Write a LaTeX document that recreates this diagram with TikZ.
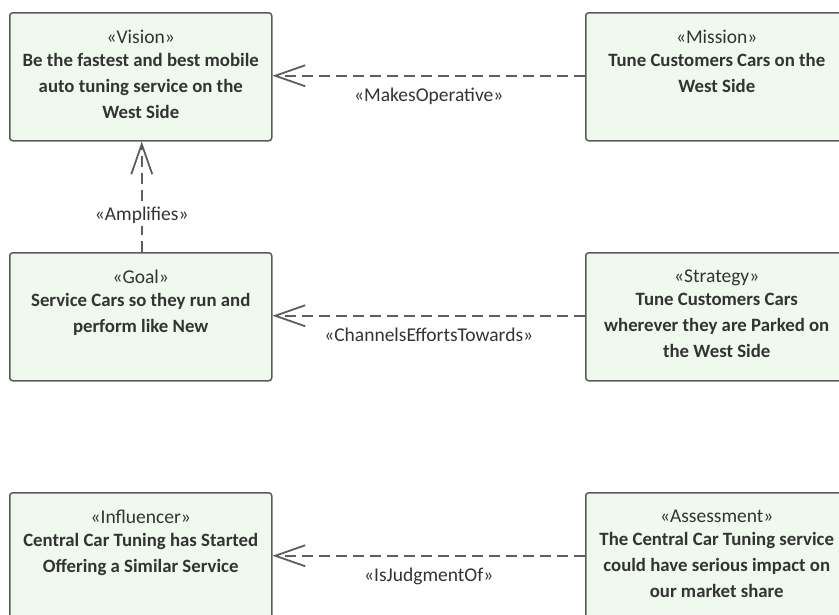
\documentclass[tikz,border=0pt]{standalone}
\usepackage{fontspec}
\setmainfont{Carlito}
\usetikzlibrary{arrows.meta}
\definecolor{boxfill}{HTML}{F0F9EE}
\definecolor{boxdraw}{HTML}{5A5A5A}
\definecolor{txt}{HTML}{333333}
\definecolor{linec}{HTML}{5E5E5E}
\newcommand{\stfont}{\fontsize{19.5}{26}\selectfont}
\tikzset{
  elem/.style={draw=boxdraw, fill=boxfill, line width=1.5pt, rounded corners=3pt,
    minimum width=262pt, minimum height=128pt, inner sep=0pt, anchor=north west},
  elemtext/.style={anchor=north, align=center, text=txt, inner sep=0pt,
    font=\fontsize{18.8}{26}\selectfont},
  rel/.style={draw=linec, line width=1.8pt, dash pattern=on 11pt off 6pt,
    -{Straight Barb[length=30pt,width=21pt,line width=1.8pt]}},
  rellabel/.style={text=txt, font=\fontsize{19.5}{22}\selectfont, inner sep=2pt}
}
\begin{document}
\begin{tikzpicture}[x=1pt,y=-1pt]
\useasboundingbox (0,0) rectangle (839,614);
\clip (0,0) rectangle (839,614);
% boxes
\node[elem] (vision) at (9,12) {};
\node[elem] (mission) at (585,12) {};
\node[elem] (goal) at (9,252) {};
\node[elem] (strategy) at (585,252) {};
\node[elem] (influencer) at (9,492) {};
\node[elem] (assessment) at (585,492) {};
% texts
\node[elemtext] (visiont) at ([yshift=-18pt]vision.north) {{\stfont«Vision»}\\[-3pt]\textbf{Be the fastest and best mobile}\\\textbf{auto tuning service on the}\\\textbf{West Side}};
\node[elemtext] (missiont) at ([yshift=-18pt]mission.north) {{\stfont«Mission»}\\[-3pt]\textbf{Tune Customers Cars on the}\\\textbf{West Side}};
\node[elemtext] (goalt) at ([yshift=-18pt]goal.north) {{\stfont«Goal»}\\[-3pt]\textbf{Service Cars so they run and}\\\textbf{perform like New}};
\node[elemtext] (strategyt) at ([yshift=-18pt]strategy.north) {{\stfont«Strategy»}\\[-3pt]\textbf{Tune Customers Cars}\\\textbf{wherever they are Parked on}\\\textbf{the West Side}};
\node[elemtext] (influencert) at ([yshift=-18pt]influencer.north) {{\stfont«Influencer»}\\[-3pt]\textbf{Central Car Tuning has Started}\\\textbf{Offering a Similar Service}};
\node[elemtext] (assessmentt) at ([yshift=-18pt]assessment.north) {{\stfont«Assessment»}\\[-3pt]\textbf{The Central Car Tuning service}\\\textbf{could have serious impact on}\\\textbf{our market share}};
% relations
\draw[rel] ([yshift=1pt]mission.west) -- node[rellabel, below=9pt] (l1) {«MakesOperative»} ([yshift=1pt]vision.east);
\draw[rel] ([yshift=1pt]strategy.west) -- node[rellabel, below=9pt] (l2) {«ChannelsEffortsTowards»} ([yshift=1pt]goal.east);
\draw[rel] ([yshift=1pt]assessment.west) -- node[rellabel, below=9pt] (l3) {«IsJudgmentOf»} ([yshift=1pt]influencer.east);
\draw[rel] ([xshift=1pt]goal.north) -- node[rellabel, fill=white, pos=0.33] (l4) {«Amplifies»} ([xshift=1pt]vision.south);
\end{tikzpicture}
\end{document}
